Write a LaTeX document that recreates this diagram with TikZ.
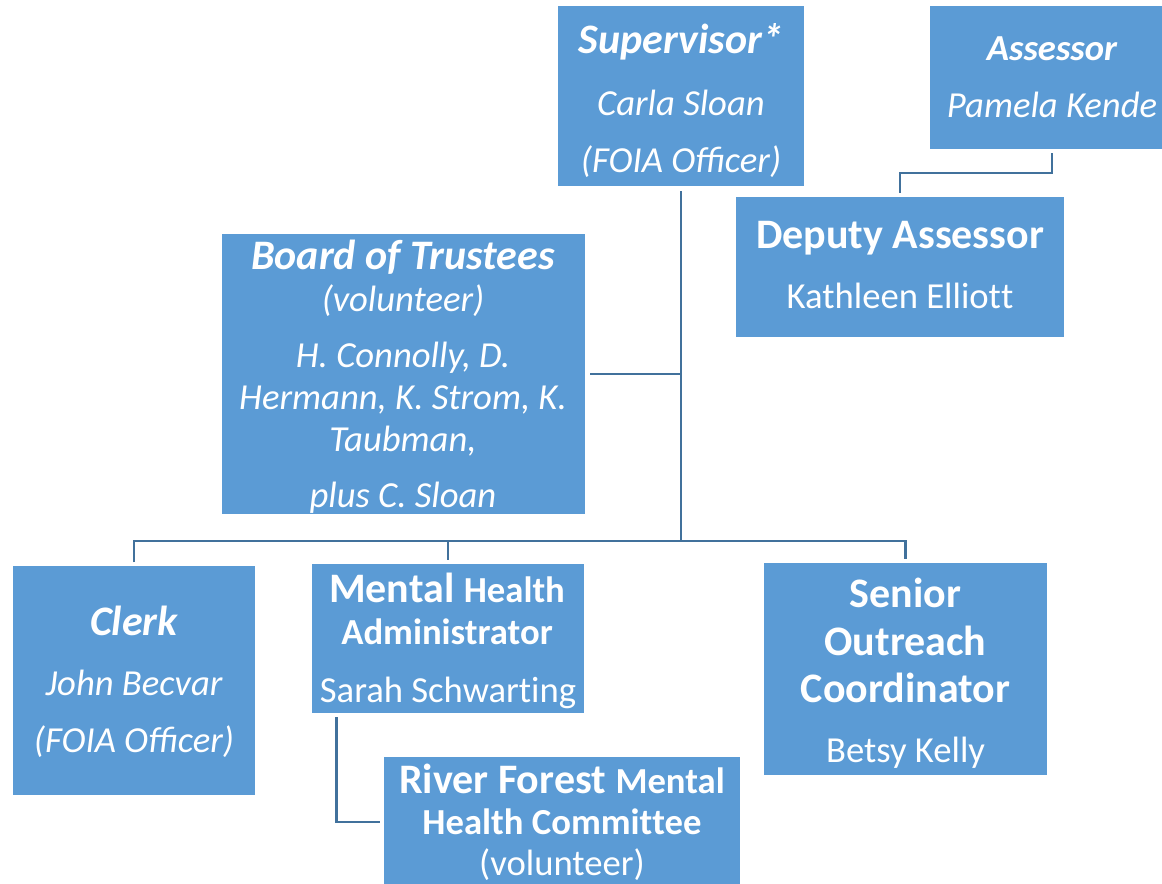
\documentclass[tikz,border=0pt]{standalone}
\usepackage{fontspec}
\setmainfont{Carlito}
\usetikzlibrary{fit}
\definecolor{boxblue}{HTML}{5B9BD5}
\definecolor{lineblue}{HTML}{41719C}
\newcommand{\bigf}{\fontsize{31.5}{36}\selectfont}
\newcommand{\smallf}{\fontsize{27.5}{32}\selectfont}
\begin{document}
\begin{tikzpicture}[x=0.75pt,y=-0.75pt,
  box/.style={fill=boxblue,draw=none,inner sep=0pt},
  txt/.style={text=white,inner sep=0pt,anchor=base},
  conn/.style={draw=lineblue,line width=1.9pt}]
\useasboundingbox (0,0) rectangle (1162,883);
% boxes
\node[box,fit={(558,6) (804,186)}] (sup) {};
\node[box,fit={(930,6) (1174,149)}] (ass) {};
\node[box,fit={(736,197) (1064,337)}] (dep) {};
\node[box,fit={(222,234) (585,514)}] (bot) {};
\node[box,fit={(13,566) (255,795)}] (clerk) {};
\node[box,fit={(312,564) (584,713)}] (mha) {};
\node[box,fit={(764,563) (1047,775)}] (senior) {};
\node[box,fit={(384,757) (740,887)}] (river) {};
% texts
\node[txt] (sup1) at (681,53) {\bigf\bfseries\itshape Supervisor*};
\node[txt] (sup2) at (681,115) {\smallf\itshape Carla Sloan};
\node[txt] (sup3) at (681,172) {\smallf\itshape (FOIA Officer)};
\node[txt] (ass1) at (1052,60) {\smallf\bfseries\itshape Assessor};
\node[txt] (ass2) at (1052,117) {\smallf\itshape Pamela Kende};
\node[txt] (dep1) at (900,248) {\bigf\bfseries Deputy Assessor};
\node[txt] (dep2) at (900,308) {\smallf Kathleen Elliot\kern0pt t};
\node[txt] (bot1) at (403,269) {\bigf\bfseries\itshape Board of Trustees};
\node[txt] (bot2) at (403,311) {\smallf\itshape (volunteer)};
\node[txt] (bot3) at (403,367) {\smallf\itshape H. Connolly, D.};
\node[txt] (bot4) at (403,409) {\smallf\itshape Hermann, K. Strom, K.};
\node[txt] (bot5) at (403,451) {\smallf\itshape Taubman,};
\node[txt] (bot6) at (403,507) {\smallf\itshape plus C. Sloan};
\node[txt] (clerk1) at (134,635) {\bigf\bfseries\itshape Clerk};
\node[txt] (clerk2) at (134,695) {\smallf\itshape John Becvar};
\node[txt] (clerk3) at (134,752) {\smallf\itshape (FOIA Officer)};
\node[txt] (mha1) at (447,602) {\bfseries{\bigf Mental }{\smallf Health}};
\node[txt] (mha2) at (447,644) {\smallf\bfseries Administrator};
\node[txt] (mha3) at (448,702) {\smallf Sarah Schwart\kern0pt ing};
\node[txt] (sen1) at (905.5,607) {\bigf\bfseries Senior};
\node[txt] (sen2) at (905.5,655) {\bigf\bfseries Outreach};
\node[txt] (sen3) at (905.5,702) {\bigf\bfseries Coordinator};
\node[txt] (sen4) at (905.5,762) {\smallf Betsy Kelly};
\node[txt] (riv1) at (562,793) {\bfseries{\bigf River Forest }{\smallf Mental}};
\node[txt] (riv2) at (562,834) {\smallf\bfseries Health Commit\kern0pt tee};
\node[txt] (riv3) at (562,875) {\smallf (volunteer)};
% connectors
\coordinate (bus) at (0,541);
\coordinate (amid) at (0,173);
\draw[conn] ([yshift=-3.75pt]sup.south) -- (sup.south |- bus);
\draw[conn] ([xshift=3.75pt]bot.east) -- (bot.east -| sup.south);
\draw[conn] ([yshift=2.5pt]clerk.north) -- (clerk.north |- bus) -- (senior.north |- bus) -- ([yshift=3pt]senior.north);
\draw[conn] ([yshift=3pt]mha.north) -- (mha.north |- bus);
\draw[conn] ([yshift=-3pt]ass.south) -- (ass.south |- amid) -- (dep.north |- amid) -- ([yshift=3pt]dep.north);
\draw[conn] ([xshift=18.75pt,yshift=-3pt]mha.south west) |- ([xshift=-3pt]river.west);
\end{tikzpicture}
\end{document}
